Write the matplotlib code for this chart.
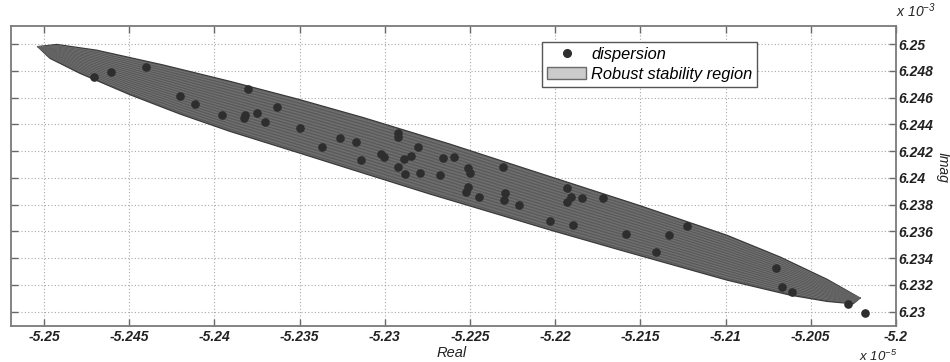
import numpy as np
import matplotlib
matplotlib.use('Agg')
import matplotlib.pyplot as plt
from matplotlib.patches import Patch
from matplotlib.lines import Line2D

plt.rcParams['font.family'] = ['Liberation Sans', 'DejaVu Sans']
plt.rcParams['mathtext.fontset'] = 'custom'
plt.rcParams['mathtext.it'] = 'Liberation Sans:italic'
plt.rcParams['mathtext.rm'] = 'Liberation Sans:italic'

# real part in units of 1e-5, imaginary part in units of 1e-3
disp_real = [-5.24707, -5.24607, -5.24401, -5.24205, -5.24112, -5.23955, -5.23823,
             -5.23826, -5.23801, -5.23748, -5.23703, -5.23634, -5.23498, -5.23369,
             -5.23266, -5.23169, -5.23140, -5.22922, -5.22924, -5.23024, -5.23005,
             -5.22848, -5.22887, -5.22808, -5.22925, -5.22881, -5.22793, -5.22676,
             -5.22657, -5.22594, -5.22510, -5.22503, -5.22308, -5.22511, -5.22523,
             -5.22450, -5.22295, -5.22303, -5.22211, -5.21934, -5.21907, -5.21929,
             -5.21841, -5.21720, -5.22031, -5.21897, -5.21585, -5.21331, -5.21228,
             -5.21406, -5.20704, -5.20667, -5.20609, -5.20280, -5.20182]
disp_imag = [6.24751, 6.24793, 6.24830, 6.24612, 6.24552, 6.24470, 6.24473,
             6.24445, 6.24662, 6.24482, 6.24420, 6.24532, 6.24375, 6.24233,
             6.24300, 6.24270, 6.24133, 6.24333, 6.24307, 6.24178, 6.24154,
             6.24163, 6.24139, 6.24233, 6.24079, 6.24031, 6.24036, 6.24019,
             6.24151, 6.24158, 6.24076, 6.24034, 6.24083, 6.23934, 6.23892,
             6.23859, 6.23889, 6.23835, 6.23801, 6.23922, 6.23859, 6.23822,
             6.23847, 6.23848, 6.23680, 6.23646, 6.23581, 6.23573, 6.23640,
             6.23448, 6.23327, 6.23187, 6.23147, 6.23056, 6.22988]

# robust stability region boundary
upper_real = [-5.25038, -5.24925, -5.24691, -5.24302, -5.23908, -5.23515, -5.23128,
              -5.22617, -5.22148, -5.21502, -5.20992, -5.20681, -5.20405, -5.20211]
upper_imag = [6.24981, 6.24997, 6.24954, 6.24844, 6.24721, 6.24590, 6.24451,
              6.24252, 6.24058, 6.23792, 6.23571, 6.23409, 6.23242, 6.23102]
lower_real = [-5.25038, -5.24965, -5.24789, -5.24495, -5.24202, -5.23908, -5.23515,
              -5.23128, -5.22735, -5.22324, -5.22031, -5.21620, -5.20992, -5.20622,
              -5.20405, -5.20252, -5.20211]
lower_imag = [6.24981, 6.24893, 6.24781, 6.24621, 6.24477, 6.24347, 6.24191,
              6.24036, 6.23879, 6.23723, 6.23611, 6.23461, 6.23236, 6.23124,
              6.23077, 6.23059, 6.23102]

x_ticks = [-5.25, -5.245, -5.24, -5.235, -5.23, -5.225, -5.22, -5.215, -5.21, -5.205, -5.2]
y_ticks = [6.23, 6.232, 6.234, 6.236, 6.238, 6.24, 6.242, 6.244, 6.246, 6.248, 6.25]

fig = plt.figure(figsize=(9.5, 3.62), dpi=100)
ax = fig.add_axes([0.0116, 0.0994, 0.9316, 0.8288])

# region: filled polygon + streak lines to mimic the meshed surface
poly_x = np.concatenate([upper_real, lower_real[::-1]])
poly_y = np.concatenate([upper_imag, lower_imag[::-1]])
ax.fill(poly_x, poly_y, facecolor='#666666', edgecolor='#3a3a3a', lw=0.9, zorder=2)

xs = np.linspace(upper_real[0], upper_real[-1], 400)
up = np.interp(xs, upper_real, upper_imag)
lo = np.interp(xs, lower_real, lower_imag)
for k, t in enumerate(np.linspace(0.04, 0.96, 34)):
    col = '#4a4a4a' if k % 2 == 0 else '#7c7c7c'
    ax.plot(xs, lo + t * (up - lo), color=col, lw=0.35, alpha=0.8, zorder=3)

ax.plot(disp_real, disp_imag, 'o', color='#2e2e2e', ms=5.2, mec='#2e2e2e', zorder=4)

ax.set_xlim(-5.25194, -5.2)
ax.set_ylim(6.22893, 6.25135)
ax.set_xticks(x_ticks)
ax.set_yticks(y_ticks)
ax.set_xticklabels(['%g' % v for v in x_ticks])
ax.set_yticklabels(['%g' % v for v in y_ticks])
ax.yaxis.tick_right()
ax.tick_params(direction='in', length=5, width=1.0, color='#6a6a6a',
               top=True, bottom=True, left=True, right=True, labelsize=10, pad=2)
ax.tick_params(axis='x', pad=3)
for lab in ax.get_xticklabels() + ax.get_yticklabels():
    lab.set_fontweight('bold')
    lab.set_fontstyle('italic')
    lab.set_color('#222222')
for sp in ax.spines.values():
    sp.set_color('#7a7a7a')
    sp.set_linewidth(1.3)
ax.grid(True, linestyle=(0, (1, 2)), color='#a8a8a8', lw=0.8)
ax.set_axisbelow(True)

ax.text(0.498, -0.068, 'Real', transform=ax.transAxes, ha='center', va='top',
        fontsize=10.5, style='italic', color='#222222')
ax.text(1.052, 0.53, 'Imag', transform=ax.transAxes, ha='center', va='center',
        rotation=-90, fontsize=10, style='italic', color='#222222')
ax.text(1.0, 1.02, r'$x\ 10^{-3}$', transform=ax.transAxes, ha='left', va='bottom',
        fontsize=10, color='#222222')
ax.text(0.958, -0.116, r'$x\ 10^{-5}$', transform=ax.transAxes, ha='left', va='baseline',
        fontsize=9.5, color='#222222')

handles = [Line2D([], [], marker='o', ls='none', color='#2e2e2e', ms=5.5),
           Patch(facecolor='#cbcbcb', edgecolor='#6a6a6a', lw=1.0)]
leg = ax.legend(handles, ['dispersion', 'Robust stability region'],
                loc='upper left', bbox_to_anchor=(0.600, 0.947), fancybox=False,
                framealpha=1, edgecolor='#555555', borderpad=0.3, labelspacing=0.3,
                handlelength=2.4, handletextpad=0.3, borderaxespad=0,
                prop={'style': 'italic', 'size': 11.8})
leg.get_frame().set_linewidth(1.0)
leg.set_zorder(6)

fig.savefig('out.png', dpi=100)
